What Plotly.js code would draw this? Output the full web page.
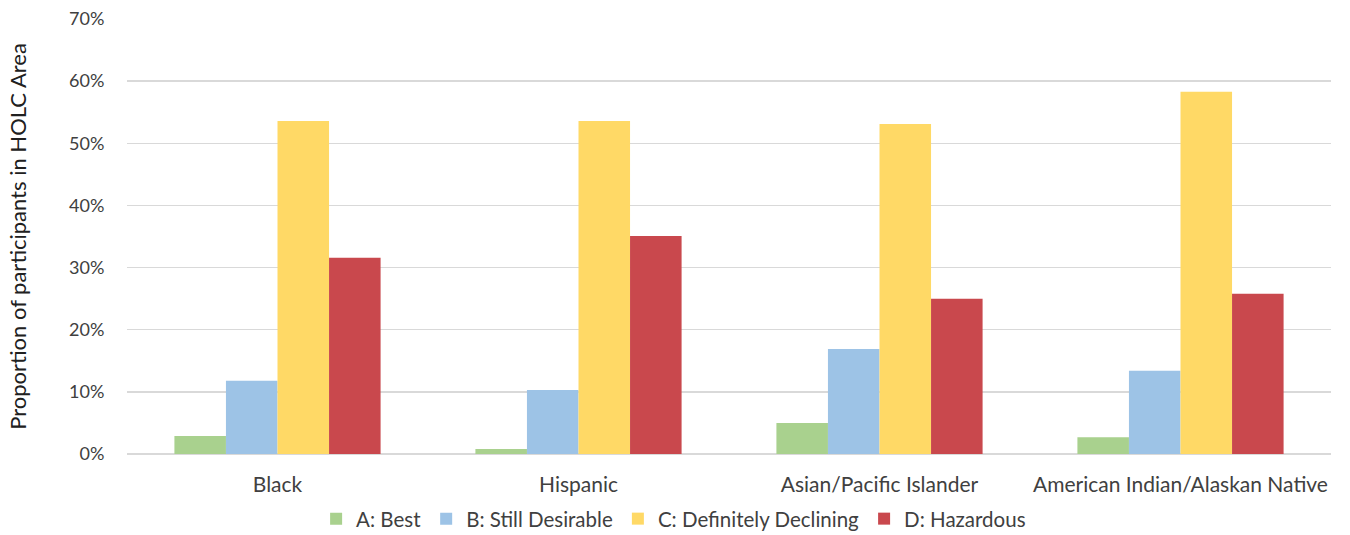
<!DOCTYPE html>
<html>
<head>
<meta charset="utf-8">
<script src="https://cdn.plot.ly/plotly-3.0.1.min.js"></script>
<style>html,body{margin:0;padding:0;background:#fff;}#chart{width:1350px;height:535px;}</style>
</head>
<body>
<div id="chart"></div>
<script>
const categories = ["Black", "Hispanic", "Asian/Pacific Islander", "American Indian/Alaskan Native"];
const seriesNames = ["A: Best", "B: Still Desirable", "C: Definitely Declining", "D: Hazardous"];
const seriesA = [0.029, 0.008, 0.050, 0.027];
const seriesB = [0.118, 0.103, 0.169, 0.134];
const seriesC = [0.536, 0.536, 0.531, 0.583];
const seriesD = [0.316, 0.351, 0.250, 0.258];
const colors = ["#A9D18E", "#9DC3E6", "#FFD966", "#C9484D"];
const yTickVals = [0, 0.1, 0.2, 0.3, 0.4, 0.5, 0.6, 0.7];
const yTickText = ["0%", "10%", "20%", "30%", "40%", "50%", "60%", "70%"];

const allSeries = [seriesA, seriesB, seriesC, seriesD];
const data = allSeries.map((vals, i) => ({
  type: "bar",
  name: seriesNames[i],
  x: categories,
  y: vals,
  marker: {color: colors[i]},
  hoverinfo: "skip"
}));

const font = "Lato, 'Open Sans', sans-serif";
const layout = {
  width: 1350,
  height: 535,
  margin: {l: 127, r: 19, t: 19, b: 81, autoexpand: false},
  paper_bgcolor: "#fff",
  plot_bgcolor: "#fff",
  barmode: "group",
  bargap: 0.315,
  bargroupgap: 0,
  font: {family: font, size: 18, color: "#404040"},
  xaxis: {
    automargin: true,
    tickfont: {family: font, size: 21, color: "#404040"},
    ticks: "outside", ticklen: 12, tickcolor: "rgba(0,0,0,0)",
    showgrid: false, zeroline: false, showline: false
  },
  yaxis: {
    automargin: true,
    range: [0, 0.7],
    tickvals: yTickVals,
    ticktext: yTickText,
    tickfont: {family: font, size: 18, color: "#404040"},
    showgrid: true, gridcolor: "#D9D9D9", gridwidth: 1.5,
    zeroline: true, zerolinecolor: "#D9D9D9", zerolinewidth: 1.5,
    showline: false,
    ticks: "outside", ticklen: 18, tickcolor: "rgba(0,0,0,0)",
    title: {text: "Proportion of participants in HOLC Area", font: {family: font, size: 22, color: "#202020"}, standoff: 36}
  },
  legend: {
    orientation: "h",
    x: 0.454, xanchor: "center",
    y: -0.149, yanchor: "middle",
    font: {family: font, size: 20.5, color: "#404040"},
    itemwidth: 30,
    traceorder: "normal"
  },
  showlegend: true
};

Plotly.newPlot("chart", data, layout, {displayModeBar: false, staticPlot: true});
</script>
</body>
</html>
